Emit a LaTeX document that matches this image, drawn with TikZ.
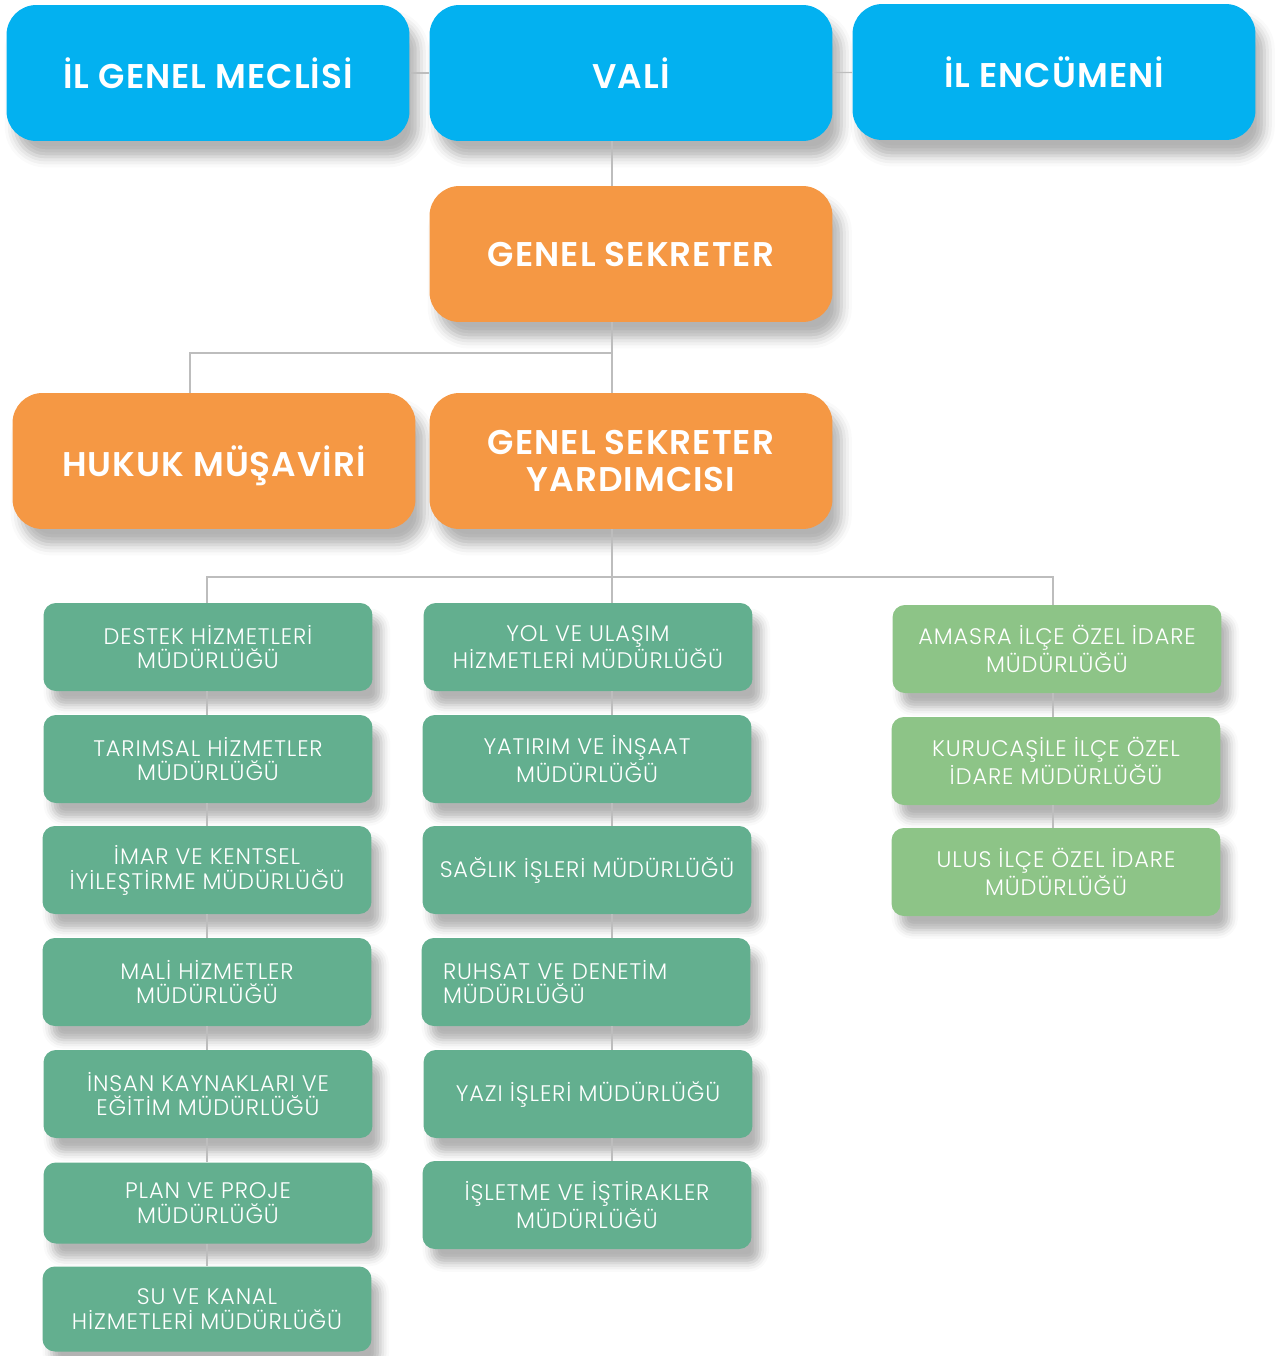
\documentclass[tikz,border=0pt]{standalone}
\usepackage{fontspec}
\setmainfont{Poppins}
\newfontfamily\headfont{Poppins SemiBold}[LetterSpace=3]
\newfontfamily\unitfont{Poppins Light}[LetterSpace=4]
\usetikzlibrary{shadows.blur}
\definecolor{valiblue}{HTML}{03B1F0}
\definecolor{secorange}{HTML}{F59844}
\definecolor{unitgreen}{HTML}{63AF8F}
\definecolor{ilcegreen}{HTML}{8DC487}
\definecolor{linegray}{HTML}{BDBDBD}

\begin{document}
\begin{tikzpicture}
        [x=0.02cm, y=-0.02cm,
        head/.style={rounded corners=17pt, minimum width=8.06cm, minimum height=2.72cm,
           text=white, align=center, text depth=0pt, font=\headfont\fontsize{19.5}{21}\selectfont,
           blur shadow={shadow xshift=5pt, shadow yshift=-9pt, shadow blur radius=6pt, shadow opacity=30}},
        unit/.style={rounded corners=7pt, fill=unitgreen, minimum width=6.58cm, minimum height=1.76cm,
           text=white, align=center, font=\unitfont\fontsize{12.8}{14.2}\selectfont,
           blur shadow={shadow xshift=5pt, shadow yshift=-8pt, shadow blur radius=5pt, shadow opacity=30}},
        ilce/.style={unit, fill=ilcegreen},
        conn/.style={draw=linegray, line width=0.7pt}]
        \useasboundingbox (0,0) rectangle (1276,1356);

        % top row
        \node (meclis) at (208, 73) [head, fill=valiblue] {İL GENEL MECLİSİ};
        \node (vali) at (631, 73) [head, fill=valiblue] {VALİ};
        \node (encumen) at (1054, 72) [head, fill=valiblue] {İL ENCÜMENİ};
        \node (gs) at (631, 254) [head, fill=secorange] {GENEL SEKRETER};
        \node (hukuk) at (214, 461) [head, fill=secorange] {HUKUK MÜŞAVİRİ};
        \node (gsy) at (631, 461) [head, fill=secorange] {GENEL SEKRETER\\YARDIMCISI};

        % left column
        \node (destek) at (208, 647) [unit] {DESTEK HİZMETLERİ\\MÜDÜRLÜĞÜ};
        \node (tarim) at (208, 759) [unit] {TARIMSAL HİZMETLER\\MÜDÜRLÜĞÜ};
        \node (imar) at (207, 870) [unit] {İMAR VE KENTSEL\\İYİLEŞTİRME MÜDÜRLÜĞÜ};
        \node (mali) at (207, 982) [unit] {MALİ HİZMETLER\\MÜDÜRLÜĞÜ};
        \node (insan) at (208, 1094) [unit] {İNSAN KAYNAKLARI VE\\EĞİTİM MÜDÜRLÜĞÜ};
        \node (plan) at (208, 1203) [unit, minimum height=1.62cm] {PLAN VE PROJE\\MÜDÜRLÜĞÜ};
        \node (su) at (207, 1309) [unit, minimum height=1.7cm] {SU VE KANAL\\HİZMETLERİ MÜDÜRLÜĞÜ};

        % middle column
        \node (yol) at (588, 647) [unit] {YOL VE ULAŞIM\\HİZMETLERİ MÜDÜRLÜĞÜ};
        \node (yatirim) at (587, 759) [unit] {YATIRIM VE İNŞAAT\\MÜDÜRLÜĞÜ};
        \node (saglik) at (587, 870) [unit] {SAĞLIK İŞLERİ MÜDÜRLÜĞÜ};
        \node (ruhsat) at (586, 982) [unit, align=left, inner xsep=0.42cm, text width=5.72cm] {RUHSAT VE DENETİM\\MÜDÜRLÜĞÜ};
        \node (yazi) at (588, 1094) [unit] {YAZI İŞLERİ MÜDÜRLÜĞÜ};
        \node (isletme) at (587, 1205) [unit] {İŞLETME VE İŞTİRAKLER\\MÜDÜRLÜĞÜ};

        % right column
        \node (amasra) at (1057, 649) [ilce] {AMASRA İLÇE ÖZEL İDARE\\MÜDÜRLÜĞÜ};
        \node (kurucasile) at (1056, 761) [ilce] {KURUCAŞİLE İLÇE ÖZEL\\İDARE MÜDÜRLÜĞÜ};
        \node (ulus) at (1056, 872) [ilce] {ULUS İLÇE ÖZEL İDARE\\MÜDÜRLÜĞÜ};

        % junctions
        \coordinate (mid) at (612, 0);
        \coordinate (hukukbar) at (190, 353);
        \coordinate (unitbar) at (612, 577);
        \coordinate (leftx) at (207, 0);
        \coordinate (rightx) at (1053, 0);

        \path (meclis) edge[conn] (vali);
        \path (vali) edge[conn] (encumen);
        \draw[conn] (vali.south -| mid) -- (gs.north -| mid);
        \draw[conn] (gs.south -| mid) -- (gsy.north -| mid);
        \draw[conn] (hukuk.north -| hukukbar) |- (hukukbar -| mid);
        \draw[conn] (gsy.south -| mid) -- (unitbar);
        \draw[conn] (destek.north -| leftx) |- (unitbar) -| (amasra.north -| rightx);
        \draw[conn] (unitbar) -- (yol.north -| mid);

        \foreach \a/\b in {destek/tarim, tarim/imar, imar/mali, mali/insan, insan/plan, plan/su}
           \draw[conn] (\a.south -| leftx) -- (\b.north -| leftx);
        \foreach \a/\b in {yol/yatirim, yatirim/saglik, saglik/ruhsat, ruhsat/yazi, yazi/isletme}
           \draw[conn] (\a.south -| mid) -- (\b.north -| mid);
        \foreach \a/\b in {amasra/kurucasile, kurucasile/ulus}
           \draw[conn] (\a.south -| rightx) -- (\b.north -| rightx);
\end{tikzpicture}
\end{document}
